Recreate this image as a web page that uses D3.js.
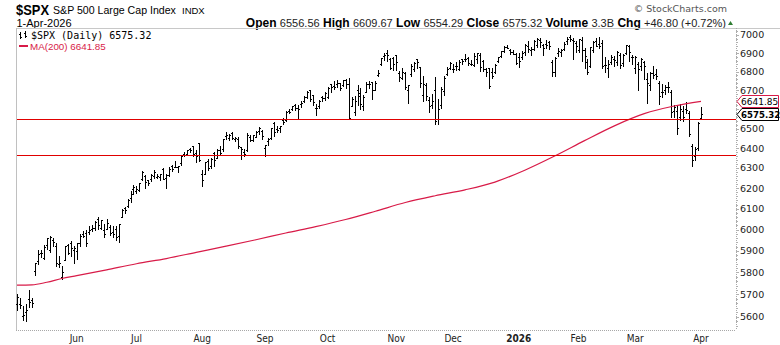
<!DOCTYPE html>
<html>
<head>
<meta charset="utf-8">
<script src="https://cdn.jsdelivr.net/npm/d3@7"></script>
<style>
  html, body { margin: 0; padding: 0; background: #fff; }
  svg { display: block; }
</style>
</head>
<body>
<svg id="chart" width="780" height="345"></svg>
<script>
// Daily OHLC for $SPX, 2-May-2025 .. 1-Apr-2026 (one line per month)
const opens = [
  5655,5655,5605,5622,5680,5675,5808,5854,5890,5865,5929,5902,5953,5924,5841,5781,5855,5925,5939,5903,
  5897,5939,5978,5985,5988,6005,6010,6050,6010,5997,6005,6012,5988,6005,5970,6062,6105,6113,6150,6194,
  6188,6191,6246,6260,6238,6247,6262,6256,6255,6295,6248,6263,6308,6304,6307,6326,6368,6371,6397,6410,6376,6428,
  6271,6271,6336,6309,6375,6352,6390,6398,6462,6453,6478,6445,6447,6404,6380,6388,6458,6441,6459,6487,6488,
  6401,6434,6454,6529,6499,6501,6545,6545,6590,6600,6620,6606,6627,6641,6663,6700,6676,6605,6615,6662,6660,
  6664,6731,6722,6735,6740,6727,6757,6735,6619,6584,6702,6686,6615,6690,6736,6743,6701,6780,6841,6884,6900,6868,6874,
  6889,6790,6765,6795,6699,6787,6815,6867,6826,6673,6728,6648,6624,6702,6548,6624,6698,6787,6822,
  6813,6830,6815,6866,6866,6873,6841,6838,6867,6890,6859,6812,6818,6800,6797,6857,6884,6911,6935,6917,6906,6895,
  6878,6880,6905,6940,6915,6925,6945,6975,6945,6950,6960,6850,6800,6900,6905,6925,6965,6990,6975,6955,
  6920,6975,6920,6850,6830,6920,6965,6950,6955,6835,6820,6850,6870,6850,6890,6845,6900,6940,6880,
  6820,6840,6830,6850,6760,6730,6790,6785,6740,6690,6700,6720,6690,6590,6590,6560,6590,6600,6580,6410,6360,6400,
  6556.56
];
const highs = [
  5700,5683,5649,5655,5720,5684,5844,5906,5906,5925,5958,5969,5962,5939,5878,5829,5922,5930,5944,5923,
  5937,5981,5991,5999,6016,6022,6043,6059,6045,6027,6051,6024,6019,6019,6025,6101,6108,6146,6187,6215,
  6210,6227,6284,6263,6242,6269,6290,6270,6272,6301,6269,6305,6316,6336,6309,6360,6381,6390,6402,6410,6393,6428,
  6288,6330,6344,6350,6379,6395,6409,6446,6481,6473,6481,6459,6456,6404,6394,6478,6466,6469,6488,6508,6490,
  6416,6451,6502,6533,6511,6513,6555,6592,6601,6616,6627,6625,6641,6672,6694,6703,6676,6626,6650,6672,6691,
  6718,6731,6750,6754,6741,6754,6758,6764,6665,6670,6726,6710,6674,6744,6752,6744,6747,6808,6876,6902,6920,6872,6877,
  6890,6803,6820,6796,6730,6841,6850,6870,6827,6775,6737,6663,6683,6771,6655,6715,6776,6825,6850,
  6843,6851,6862,6867,6895,6878,6863,6899,6903,6902,6862,6818,6819,6819,6842,6881,6912,6937,6945,6923,6915,6900,
  6900,6912,6948,6965,6935,6970,6986,6986,6950,6970,6968,6862,6880,6930,6925,6960,6990,7002,6985,6965,
  6980,6990,6930,6870,6935,6965,6985,6990,6975,6880,6865,6890,6885,6910,6900,6895,6946,6945,6890,
  6885,6850,6875,6860,6790,6800,6830,6815,6752,6735,6730,6745,6700,6620,6618,6630,6615,6640,6590,6420,6405,6535,
  6609.67
];
const lows = [
  5631,5639,5587,5579,5645,5644,5786,5841,5873,5860,5907,5895,5922,5830,5825,5768,5855,5886,5876,5844,
  5862,5921,5966,5921,5978,5994,6000,6003,6003,5963,6004,5976,5967,5953,5943,6060,6080,6110,6132,6172,
  6178,6188,6241,6201,6217,6237,6248,6249,6242,6244,6202,6260,6287,6303,6282,6317,6360,6369,6378,6358,6330,6333,
  6212,6271,6289,6301,6309,6350,6364,6386,6448,6442,6444,6437,6401,6343,6360,6385,6438,6438,6458,6471,6445,
  6361,6418,6447,6461,6482,6484,6522,6540,6578,6596,6596,6551,6612,6640,6660,6644,6623,6569,6609,6646,6651,
  6657,6693,6706,6719,6699,6723,6712,6551,6616,6571,6624,6603,6594,6690,6713,6653,6700,6777,6838,6864,6855,6813,6809,
  6808,6749,6760,6707,6631,6778,6802,6821,6720,6646,6651,6585,6608,6522,6525,6609,6674,6784,6816,
  6800,6806,6810,6839,6858,6836,6834,6829,6847,6801,6801,6775,6712,6764,6795,6852,6877,6909,6926,6895,6893,6843,
  6825,6868,6890,6905,6888,6918,6935,6935,6890,6930,6925,6775,6778,6882,6885,6920,6950,6965,6870,6905,
  6905,6860,6820,6785,6825,6905,6940,6930,6820,6800,6770,6840,6830,6835,6820,6830,6895,6860,6840,
  6795,6700,6810,6760,6635,6700,6765,6760,6630,6665,6680,6690,6560,6560,6470,6545,6540,6580,6460,6310,6340,6390,
  6554.29
];
const closes = [
  5686,5650,5607,5631,5664,5660,5844,5886,5892,5916,5958,5964,5940,5845,5842,5802,5921,5889,5912,5911,
  5936,5970,5971,5939,6000,6006,6038,6022,6045,5977,6033,5982,5981,5967,6025,6092,6092,6141,6173,6205,
  6198,6227,6279,6230,6226,6263,6280,6260,6268,6244,6264,6297,6297,6306,6309,6359,6363,6389,6390,6371,6362,6339,
  6238,6330,6299,6345,6340,6389,6374,6446,6466,6469,6450,6449,6411,6396,6370,6467,6439,6466,6481,6502,6460,
  6416,6448,6502,6482,6495,6512,6532,6587,6584,6615,6606,6600,6631,6664,6693,6656,6638,6605,6644,6661,6688,
  6711,6715,6716,6740,6714,6753,6735,6553,6654,6644,6671,6630,6664,6735,6735,6699,6738,6792,6875,6891,6890,6822,6840,
  6852,6771,6796,6720,6728,6832,6846,6851,6737,6734,6672,6617,6642,6538,6603,6705,6766,6813,6849,
  6812,6829,6850,6857,6870,6846,6840,6887,6901,6827,6816,6800,6721,6775,6835,6878,6910,6932,6930,6905,6896,6845,
  6858,6902,6945,6921,6921,6966,6977,6963,6926,6944,6940,6797,6876,6913,6916,6950,6979,6978,6969,6939,
  6976,6917,6882,6798,6932,6964,6942,6942,6832,6836,6843,6881,6861,6909,6837,6890,6946,6908,6878,
  6881,6816,6869,6830,6740,6795,6780,6775,6672,6690,6720,6715,6585,6610,6505,6600,6560,6595,6470,6340,6395,6528.52,
  6575.32
];

// 200-day moving average, sampled at bar positions
const maBar = [0, 5, 10, 15, 20, 30, 40, 50, 60, 70, 80, 90, 100, 110, 120, 130, 140, 150, 160, 170, 180, 190, 200, 210, 220, 229];
const maValue = [5742, 5743, 5755, 5772, 5785, 5812, 5840, 5864, 5893, 5922, 5952, 5984, 6014, 6048, 6088, 6130, 6163, 6192, 6230, 6289, 6360, 6438, 6514, 6577, 6617, 6641.85];

// Horizontal support levels
const levels = [6550, 6365];

// Price axis and month labels
const priceTicks = [5600, 5700, 5800, 5900, 6000, 6100, 6200, 6300, 6400, 6500, 6700, 6800, 6900, 7000];
const monthLabels = ["Jun", "Jul", "Aug", "Sep", "Oct", "Nov", "Dec", "2026", "Feb", "Mar", "Apr"];
const monthFirstBar = [20, 40, 62, 83, 104, 127, 146, 168, 188, 207, 229];

// Header quote
const quoteFields = [["Open", "6556.56"], ["High", "6609.67"], ["Low", "6554.29"], ["Close", "6575.32"], ["Volume", "3.3B"], ["Chg", "+46.80 (+0.72%)"]];
const lastClose = 6575.32;
const lastMA = 6641.85;

const svg = d3.select("#chart");
const W = 780, H = 345;
const plot = { left: 16, right: 736, top: 28, bottom: 330 };

const n = closes.length;
const x = d3.scaleLinear().domain([0, n - 1]).range([17, 701]);
const y = d3.scaleLog().domain([5600, 7000]).range([316.7, 35]);

const sans = "'DejaVu Sans', Verdana, sans-serif";
const arial = "'Liberation Sans', Arial, sans-serif";
const maColor = "#d81b48";

// Header
svg.append("text").attr("x", 16).attr("y", 14.5)
  .attr("font-family", arial).attr("font-weight", "bold").attr("font-size", 14.5)
  .attr("textLength", 33).attr("lengthAdjust", "spacingAndGlyphs")
  .attr("fill", "#000").text("$SPX");
svg.append("text").attr("x", 53).attr("y", 13.5)
  .attr("font-family", arial).attr("font-size", 10.6).attr("fill", "#000")
  .text("S&P 500 Large Cap Index");
svg.append("text").attr("x", 182).attr("y", 13.5)
  .attr("font-family", arial).attr("font-size", 9.5).attr("fill", "#000")
  .text("INDX");
svg.append("text").attr("x", 16.5).attr("y", 26.5)
  .attr("font-family", arial).attr("font-size", 11).attr("fill", "#000")
  .text("1-Apr-2026");
svg.append("text").attr("x", 727).attr("y", 12)
  .attr("text-anchor", "end").attr("font-family", sans).attr("font-size", 9.5).attr("fill", "#555")
  .text("© StockCharts.com");

const quote = svg.append("text").attr("x", 726).attr("y", 26.5).attr("text-anchor", "end");
quoteFields.forEach(([k, v], i) => {
  quote.append("tspan").attr("font-family", arial).attr("font-weight", "bold").attr("font-size", 12)
    .attr("fill", "#000").text((i ? "  " : "") + k + " ");
  quote.append("tspan").attr("font-family", arial).attr("font-size", 11).attr("fill", "#222").text(v);
});
svg.append("path").attr("d", "M728,25 L730.5,21 L733,25 Z").attr("fill", "#2e7d32");

// Plot frame
svg.append("line").attr("x1", plot.left).attr("x2", W).attr("y1", plot.top + 0.5).attr("y2", plot.top + 0.5)
  .attr("stroke", "#c8c8c8");
svg.append("line").attr("x1", plot.left + 0.5).attr("x2", plot.left + 0.5).attr("y1", plot.top).attr("y2", plot.bottom)
  .attr("stroke", "#c0c0c0");
svg.append("line").attr("x1", plot.left).attr("x2", plot.right).attr("y1", plot.bottom + 0.5).attr("y2", plot.bottom + 0.5)
  .attr("stroke", "#a8a8a8").attr("stroke-dasharray", "1,1");
svg.append("line").attr("x1", plot.right + 0.5).attr("x2", plot.right + 0.5).attr("y1", plot.top).attr("y2", plot.bottom)
  .attr("stroke", "#a8a8a8").attr("stroke-dasharray", "1,1");

// Right price axis: labels plus minor ticks
const minor = d3.range(5560, 7040, 20);
svg.append("g").selectAll("line").data(minor).join("line")
  .attr("x1", plot.right).attr("x2", d => plot.right + (d % 100 === 0 ? 3 : 2))
  .attr("y1", d => Math.round(y(d)) + 0.5).attr("y2", d => Math.round(y(d)) + 0.5)
  .attr("stroke", "#b0b0b0").attr("shape-rendering", "crispEdges");
svg.append("g").selectAll("text").data(priceTicks).join("text")
  .attr("x", 740).attr("y", d => y(d)).attr("dy", "0.36em")
  .attr("font-family", sans).attr("font-size", 9.5).attr("fill", "#222")
  .text(d => d);

// Month labels, centred on each month's first session
svg.append("g").selectAll("text").data(monthLabels).join("text")
  .attr("x", (d, i) => x(monthFirstBar[i])).attr("y", 342)
  .attr("text-anchor", "middle")
  .attr("font-family", "'DejaVu Sans Condensed', " + sans).attr("font-stretch", "condensed")
  .attr("font-size", 10).attr("font-weight", d => d === "2026" ? "bold" : "normal")
  .attr("fill", "#222")
  .text(d => d);

// OHLC bars
const bars = svg.append("g").attr("shape-rendering", "crispEdges").attr("fill", "#000");
const idx = d3.range(n);
bars.selectAll("rect.hl").data(idx).join("rect").attr("class", "hl")
  .attr("x", i => Math.round(x(i)))
  .attr("y", i => Math.round(y(highs[i])))
  .attr("width", 1)
  .attr("height", i => Math.max(1, Math.round(y(lows[i])) - Math.round(y(highs[i])) + 1));
bars.selectAll("rect.op").data(idx).join("rect").attr("class", "op")
  .attr("x", i => Math.round(x(i)) - 1).attr("y", i => Math.round(y(opens[i])))
  .attr("width", 1).attr("height", 1);
bars.selectAll("rect.cl").data(idx).join("rect").attr("class", "cl")
  .attr("x", i => Math.round(x(i)) + 1).attr("y", i => Math.round(y(closes[i])))
  .attr("width", 1).attr("height", 1);

// 200-day moving average
const maLine = d3.line().x(d => x(d[0])).y(d => y(d[1])).curve(d3.curveMonotoneX);
svg.append("path").datum(maBar.map((b, i) => [b, maValue[i]]))
  .attr("d", maLine).attr("fill", "none").attr("stroke", maColor).attr("stroke-width", 1.2);

// Support levels
svg.append("g").selectAll("line").data(levels).join("line")
  .attr("x1", plot.left + 1).attr("x2", plot.right)
  .attr("y1", d => Math.round(y(d)) + 0.5).attr("y2", d => Math.round(y(d)) + 0.5)
  .attr("stroke", "#e00000").attr("stroke-width", 1).attr("shape-rendering", "crispEdges");

// Value tags on the price axis
function tag(v, stroke, bold) {
  const cy = Math.round(y(v)) + 0.5;
  const g = svg.append("g");
  g.append("path")
    .attr("d", `M${plot.right + 1},${cy} L${plot.right + 6},${cy - 6} L778.5,${cy - 6} L778.5,${cy + 6} L${plot.right + 6},${cy + 6} Z`)
    .attr("fill", "#fff").attr("stroke", stroke).attr("stroke-width", 1);
  g.append("text").attr("x", 741).attr("y", cy).attr("dy", "0.36em")
    .attr("font-family", sans).attr("font-size", bold ? 8.6 : 9)
    .attr("font-weight", bold ? "bold" : "normal").attr("fill", "#000")
    .text(d3.format(".2f")(v));
}
tag(lastMA, maColor, false);
tag(lastClose, "#000", true);

// Legend
const lg = svg.append("g").attr("shape-rendering", "crispEdges");
[[20, 32, 39], [25, 31, 38]].forEach(([bx, t, b]) => {
  lg.append("rect").attr("x", bx).attr("y", t).attr("width", 1).attr("height", b - t).attr("fill", "#000");
  lg.append("rect").attr("x", bx - 1).attr("y", t + 2).attr("width", 1).attr("height", 1).attr("fill", "#000");
  lg.append("rect").attr("x", bx + 1).attr("y", b - 2).attr("width", 1).attr("height", 1).attr("fill", "#000");
});
svg.append("text").attr("x", 31).attr("y", 39)
  .attr("font-family", "'DejaVu Sans Mono', monospace").attr("font-size", 10).attr("fill", "#000")
  .text("$SPX (Daily) " + d3.format(".2f")(lastClose));
lg.append("rect").attr("x", 19).attr("y", 45).attr("width", 9).attr("height", 2).attr("fill", maColor);
svg.append("text").attr("x", 30).attr("y", 49.5)
  .attr("font-family", arial).attr("font-size", 9.8).attr("fill", maColor)
  .text("MA(200) " + d3.format(".2f")(lastMA));
</script>
</body>
</html>
